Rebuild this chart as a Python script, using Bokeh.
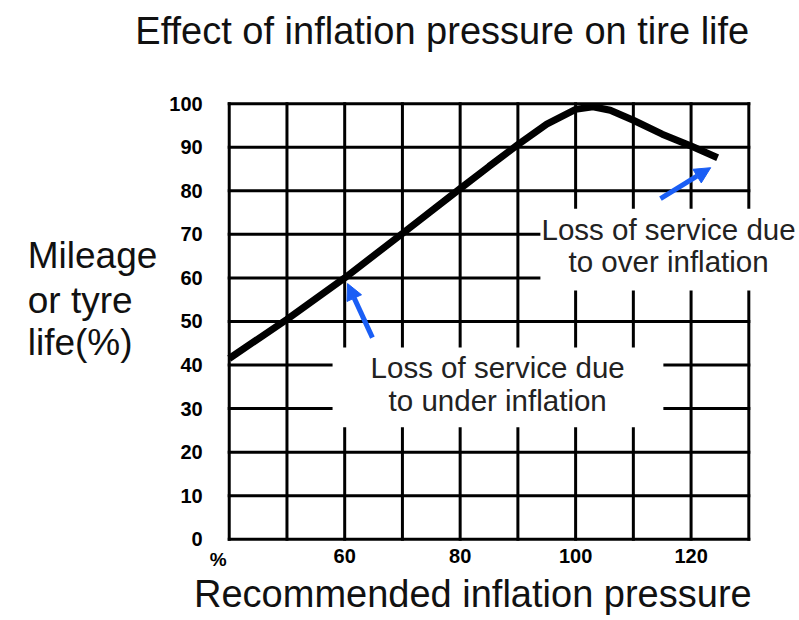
from bokeh.plotting import figure
from bokeh.models import Label, Arrow, NormalHead, Range1d
from bokeh.core.properties import value
from bokeh.embed import file_html
from bokeh.resources import INLINE

# ---- data ----
pressure = [40, 50, 60, 70, 80, 85, 90, 95, 100, 103, 106, 110, 115, 120, 124.6]
tyre_life = [41.5, 50.5, 60.0, 70.2, 80.5, 85.6, 90.6, 95.3, 98.7, 99.3, 98.5, 96.2, 93.0, 90.3, 87.6]
x_grid = [40, 50, 60, 70, 80, 90, 100, 110, 120, 130]
y_grid = [0, 10, 20, 30, 40, 50, 60, 70, 80, 90, 100]
x_tick_values = [60, 80, 100, 120]
x_tick_labels = ["60", "80", "100", "120"]
y_tick_values = [0, 10, 20, 30, 40, 50, 60, 70, 80, 90, 100]
y_tick_labels = ["0", "10", "20", "30", "40", "50", "60", "70", "80", "90", "100"]

title_text = "Effect of inflation pressure on tire life"
x_label = "Recommended inflation pressure"
y_label_lines = ["Mileage", "or tyre", "life(%)"]
under_lines = ["Loss of service due", "to under inflation"]
over_lines = ["Loss of service due", "to over inflation"]

FONT = "Liberation Sans"
TXT = "#222222"
BLUE = "#1a5ef5"

X0, X1 = min(x_grid), max(x_grid)
Y0, Y1 = min(y_grid), max(y_grid)

# the frame covers the whole canvas; the chart area is drawn inside it
p = figure(width=799, height=620, output_backend="svg", toolbar_location=None,
           x_range=Range1d(0.38, 138.78), y_range=Range1d(-18.65, 123.69),
           min_border=0)
p.outline_line_color = None
p.axis.visible = False
p.grid.visible = False
p.background_fill_color = "white"
p.border_fill_color = "white"

# grid lines (including the border of the chart area)
p.segment(x0=x_grid, y0=[Y0] * len(x_grid), x1=x_grid, y1=[Y1] * len(x_grid),
          line_color="black", line_width=3, line_cap="square")
p.segment(x0=[X0] * len(y_grid), y0=y_grid, x1=[X1] * len(y_grid), y1=y_grid,
          line_color="black", line_width=3, line_cap="square")

# white boxes behind annotation texts (break the grid)
p.quad(left=[57.9], right=[115.2], bottom=[25.7], top=[44.0], fill_color="white", line_color=None)
p.quad(left=[93.9], right=[140], bottom=[57.1], top=[75.9], fill_color="white", line_color=None)

# curve
p.line(pressure, tyre_life, line_color="black", line_width=7)

# arrows
p.add_layout(Arrow(x_start=64.8, y_start=46.3, x_end=60.5, y_end=58.7,
                   line_color=BLUE, line_width=5,
                   end=NormalHead(size=16, fill_color=BLUE, line_color=BLUE)))
p.add_layout(Arrow(x_start=114.7, y_start=78.2, x_end=123.4, y_end=85.3,
                   line_color=BLUE, line_width=5,
                   end=NormalHead(size=16, fill_color=BLUE, line_color=BLUE)))

# tick labels
p.text(x=[35.4] * len(y_tick_values), y=y_tick_values, text=y_tick_labels,
       text_font=value(FONT), text_font_style="bold", text_font_size="20px",
       text_align="right", text_baseline="middle", text_color="black")
p.text(x=x_tick_values, y=[-3.95] * len(x_tick_values), text=x_tick_labels,
       text_font=value(FONT), text_font_style="bold", text_font_size="20px",
       text_align="center", text_baseline="middle", text_color="black")


def lab(x, y, text, size, align="center", baseline="alphabetic", color=TXT, style="normal"):
    p.add_layout(Label(x=x, y=y, text=text, text_font=FONT, text_font_size=size,
                       text_align=align, text_baseline=baseline, text_color=color,
                       text_font_style=style))


lab(38.1, -4.6, "%", "19px", baseline="middle", color="black", style="bold")

# annotation texts
lab(86.5, 39.5, under_lines[0], "29.5px")
lab(86.5, 31.8, under_lines[1], "29.5px")
lab(116.1, 71.2, over_lines[0], "29.5px")
lab(116.1, 63.7, over_lines[1], "29.5px")

# title, axis labels
lab(76.9, 116.7, title_text, "38px", color="#111111")
lab(82.2, -12.6, x_label, "38px", color="#111111")
lab(5.1, 65.1, y_label_lines[0], "37px", align="left", color="#111111")
lab(5.1, 54.8, y_label_lines[1], "37px", align="left", color="#111111")
lab(5.1, 45.2, y_label_lines[2], "37px", align="left", color="#111111")

open("out.html", "w").write(file_html(p, INLINE))
